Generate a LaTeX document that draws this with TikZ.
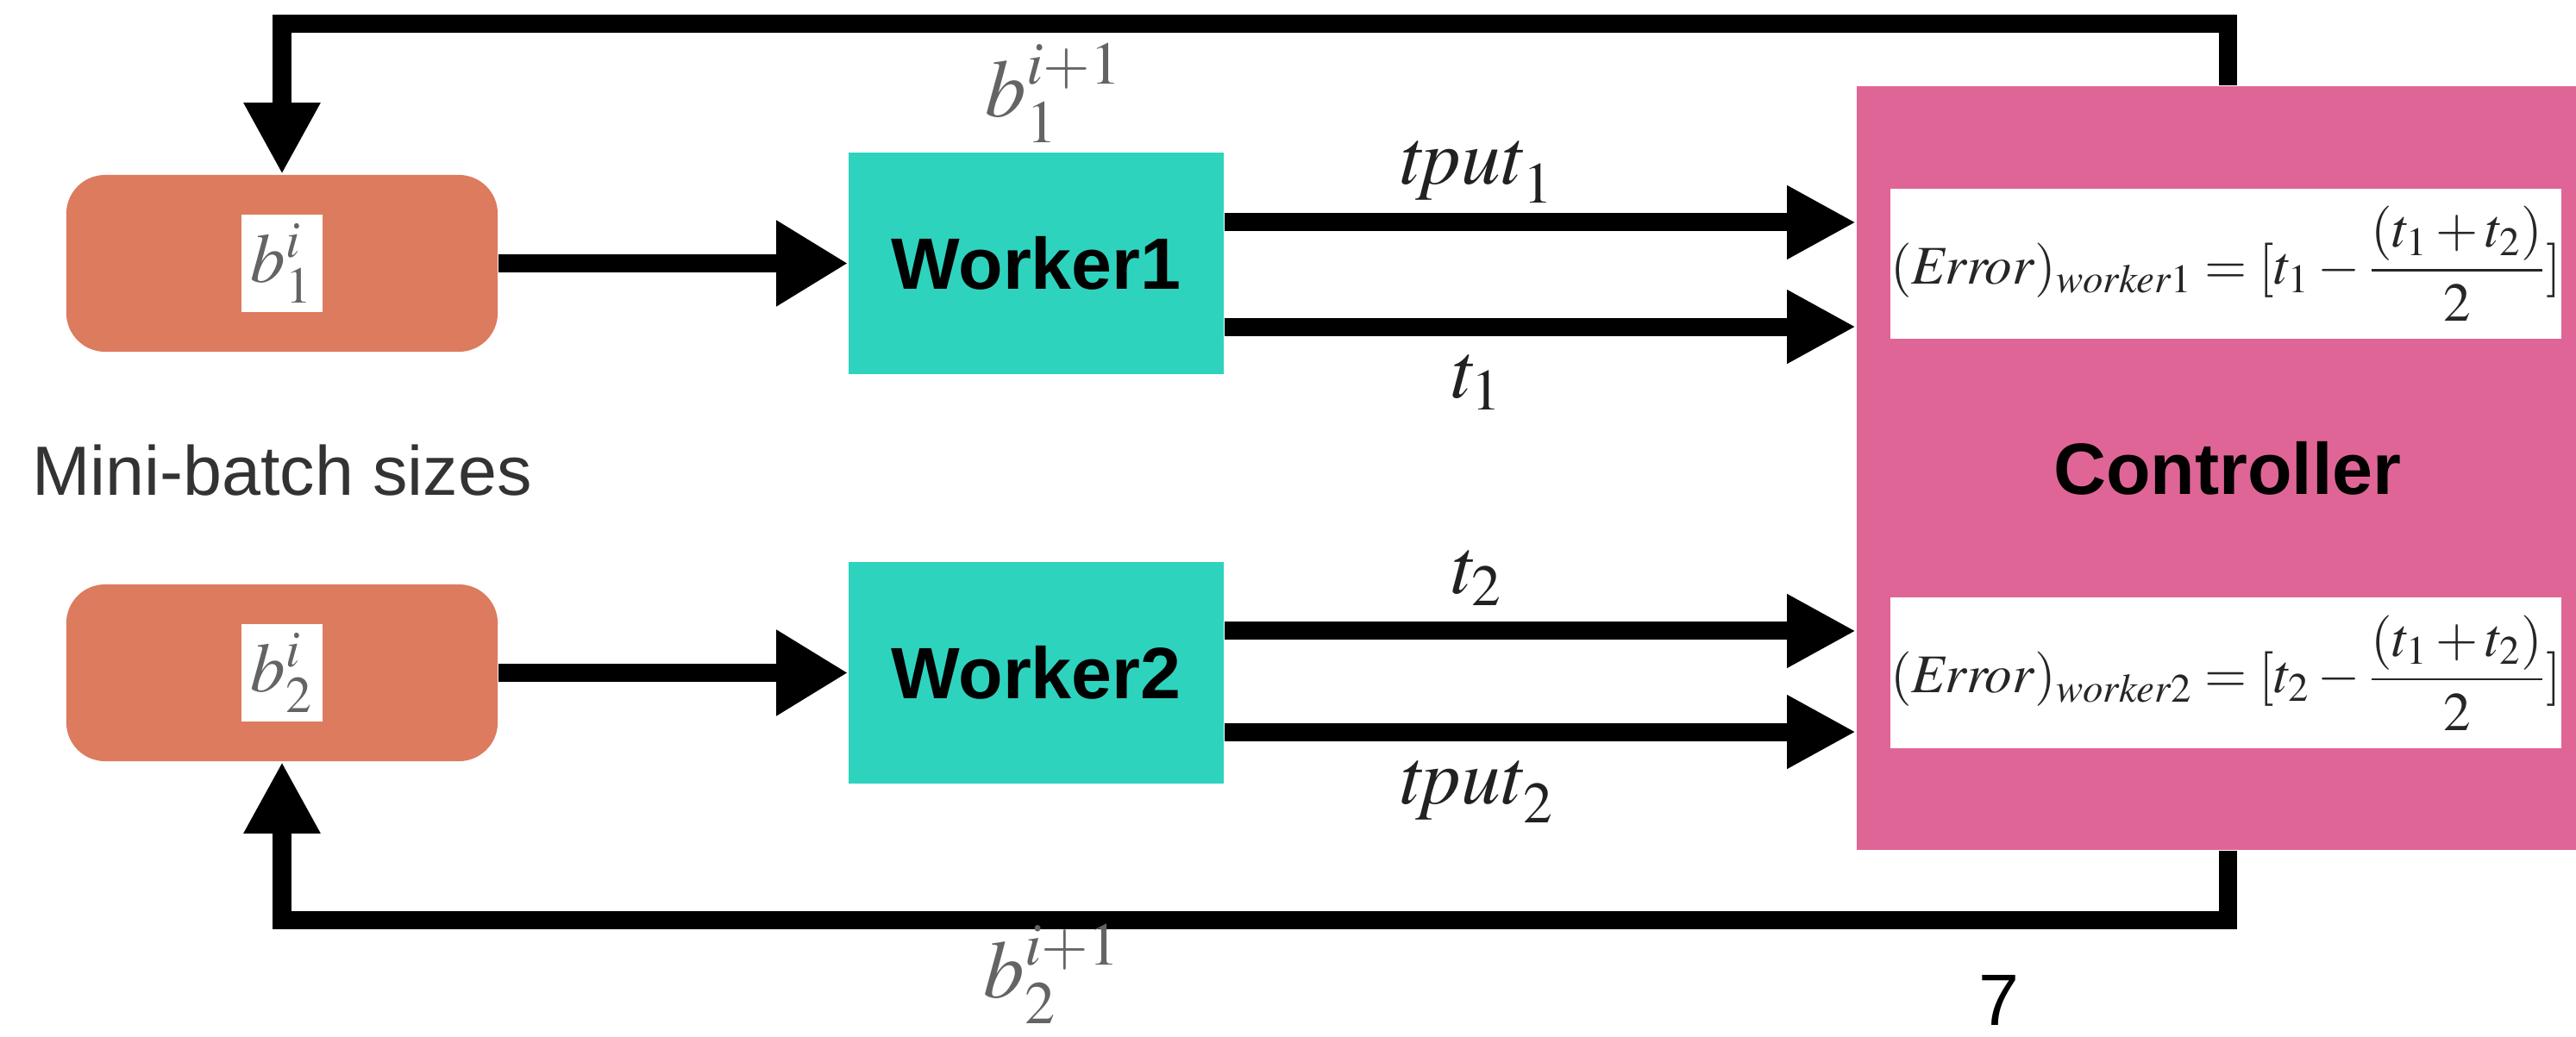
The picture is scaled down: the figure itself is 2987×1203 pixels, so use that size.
\documentclass[tikz,border=0pt]{standalone}
\usepackage{mathptmx}
\usepackage[no-math]{fontspec}
\setmainfont{Liberation Sans}
\usetikzlibrary{arrows.meta,positioning}

\definecolor{batchorange}{RGB}{221,123,95}
\definecolor{workerteal}{RGB}{46,211,190}
\definecolor{ctrlpink}{RGB}{224,101,151}
\definecolor{labelgray}{RGB}{100,100,100}

\begin{document}
\begin{tikzpicture}[x=0.01cm,y=-0.01cm,
  batch/.style={fill=batchorange,rounded corners=0.45cm,minimum width=5cm,minimum height=2.05cm,inner sep=0pt,font=\fontsize{23}{27}\selectfont},
  worker/.style={fill=workerteal,minimum width=4.35cm,minimum height=2.57cm,font=\fontsize{24}{28}\selectfont\bfseries},
  errbox/.style={fill=white,minimum width=7.74cm,minimum height=1.74cm,inner sep=0pt,text=black!85,font=\fontsize{18}{22}\selectfont},
  flow/.style={line width=2.1mm,-{Triangle[length=8.3mm,width=9.4mm]}},
  report/.style={line width=2.1mm,-{Triangle[length=8mm,width=8mm]}},
  feedback/.style={line width=2.1mm,-{Triangle[length=8.3mm,width=8.3mm]}},
  tlabel/.style={text=black!87,font=\fontsize{26}{30}\selectfont},
  blabel/.style={text=labelgray,font=\fontsize{27}{31}\selectfont}]
\useasboundingbox (0,0) rectangle (2987,1203);

\node[batch] (b1) at (327,305.5) {\colorbox{white}{\color{labelgray}$b^i_1$}};
\node[batch] (b2) at (327,780.5) {\colorbox{white}{\color{labelgray}$b^i_2$}};
\node[anchor=base,text=black!80,font=\fontsize{23}{27}\selectfont] (mb) at (327,574) {Mini-batch sizes};

\node[worker] (w1) at (1201.5,305.5) {Worker1};
\node[worker] (w2) at (1201.5,780.5) {Worker2};

\node[fill=ctrlpink,minimum width=8.6cm,minimum height=8.86cm,font=\fontsize{24}{28}\selectfont\bfseries] (ctrl) at (2583,543) {Controller};
\node[errbox] (e1) at (2581,306) {$\displaystyle (\mathit{Error})_{\mathit{worker}1} = [t_1 - \frac{(t_1+t_2)}{2}]$};
\node[errbox] (e2) at (2581,780.5) {$\displaystyle (\mathit{Error})_{\mathit{worker}2} = [t_2 - \frac{(t_1+t_2)}{2}]$};

\draw[flow] (b1) -- (w1);
\draw[flow] (b2) -- (w2);

\draw[report] ([yshift=0.475cm]w1.east) -- ([yshift=0.475cm]w1.east -| ctrl.west) node[tlabel,pos=0.4,above] {$\mathit{tput}_1$};
\draw[report] ([yshift=-0.735cm]w1.east) -- ([yshift=-0.735cm]w1.east -| ctrl.west) node[tlabel,pos=0.4,below=3pt] {$t_1$};
\draw[report] ([yshift=0.485cm]w2.east) -- ([yshift=0.485cm]w2.east -| ctrl.west) node[tlabel,pos=0.4,above=2pt] {$t_2$};
\draw[report] ([yshift=-0.685cm]w2.east) -- ([yshift=-0.685cm]w2.east -| ctrl.west) node[tlabel,pos=0.4,below=3pt] {$\mathit{tput}_2$};

% new mini-batch sizes go back from the controller
\draw[feedback] (ctrl.north) -- ++(0,-72) -| (b1.north);
\draw[feedback] (ctrl.south) -- ++(0,81) -| (b2.south);
\node[blabel] (nb1) at (1222,108) {$b^{i+1}_1$};
\node[blabel] (nb2) at (1220,1130) {$b^{i+1}_2$};

\node[anchor=base,font=\fontsize{24}{28}\selectfont] (pg) at (2318,1189) {7};
\end{tikzpicture}
\end{document}
